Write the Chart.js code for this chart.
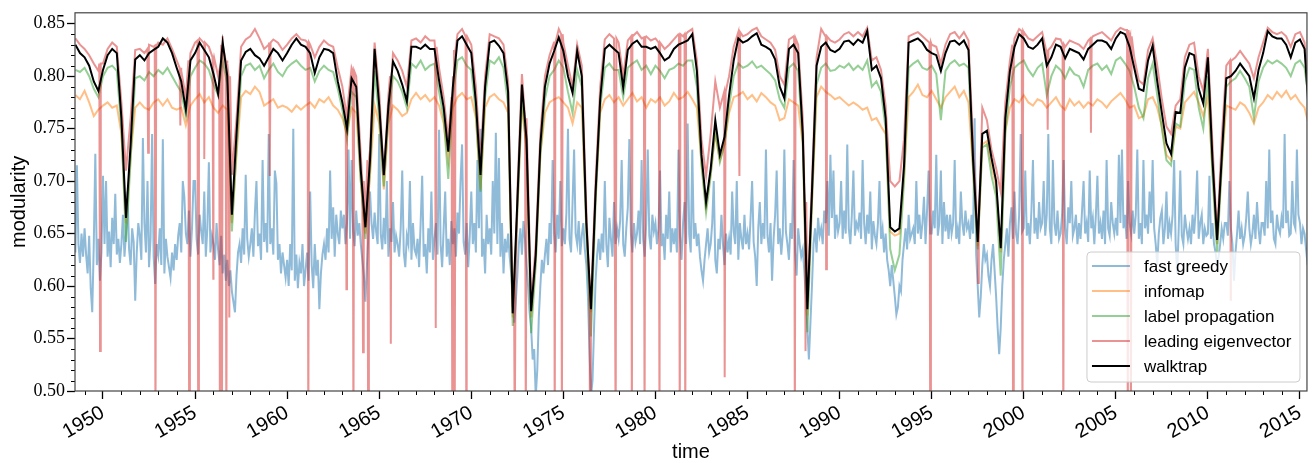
<!DOCTYPE html>
<html>
<head>
<meta charset="utf-8">
<script src="https://cdn.jsdelivr.net/npm/chart.js@4.4.0/dist/chart.umd.min.js"></script>
<style>
  html, body { margin: 0; padding: 0; background: #fff; }
  #chart { display: block; }
</style>
</head>
<body>
<canvas id="chart" width="1314" height="463"></canvas>
<script>
// quarterly samples from 1948.5, fast greedy is monthly from July 1948
const quarterStart = 1948.5, quarterStep = 0.25;
const monthStart = 1948.5, monthStep = 1 / 12;
const dropHalfWidth = 0.04;

const yearTicks = [1950, 1955, 1960, 1965, 1970, 1975, 1980, 1985, 1990, 1995, 2000, 2005, 2010, 2015];
const modularityTicks = [0.50, 0.55, 0.60, 0.65, 0.70, 0.75, 0.80, 0.85];

const walktrap = [
  0.830, 0.822,
  0.818, 0.810, 0.795, 0.786,  // 1949
  0.806, 0.820, 0.826, 0.822,
  0.760, 0.665, 0.735, 0.816,
  0.820, 0.815, 0.822, 0.825,
  0.828, 0.836, 0.832, 0.822,
  0.808, 0.795, 0.768, 0.815,
  0.822, 0.832, 0.825, 0.818,
  0.802, 0.783, 0.832, 0.800,
  0.668, 0.745, 0.815, 0.823,
  0.826, 0.820, 0.817, 0.810,
  0.818, 0.826, 0.822, 0.815,  // 1959
  0.822, 0.830, 0.836, 0.830,
  0.828, 0.822, 0.803, 0.818,
  0.826, 0.825, 0.822, 0.795,
  0.775, 0.750, 0.798, 0.790,
  0.710, 0.656, 0.720, 0.826,
  0.772, 0.706, 0.772, 0.814,
  0.805, 0.792, 0.776, 0.828,
  0.828, 0.826, 0.830, 0.826,
  0.826, 0.796, 0.770, 0.728,
  0.790, 0.834, 0.838, 0.830,  // 1969
  0.822, 0.775, 0.706, 0.790,
  0.832, 0.834, 0.829, 0.822,
  0.785, 0.574, 0.680, 0.792,
  0.740, 0.576, 0.630, 0.735,
  0.790, 0.812, 0.824, 0.837,
  0.824, 0.800, 0.784, 0.824,
  0.800, 0.660, 0.578, 0.690,
  0.778, 0.826, 0.830, 0.826,
  0.822, 0.789, 0.825, 0.831,
  0.834, 0.828, 0.828, 0.826,  // 1979
  0.828, 0.822, 0.815, 0.818,
  0.826, 0.830, 0.832, 0.834,
  0.840, 0.805, 0.725, 0.680,
  0.712, 0.758, 0.725, 0.742,
  0.782, 0.815, 0.836, 0.832,
  0.834, 0.838, 0.841, 0.830,
  0.828, 0.825, 0.816, 0.790,
  0.779, 0.826, 0.830, 0.822,
  0.745, 0.578, 0.690, 0.810,
  0.828, 0.832, 0.825, 0.823,  // 1989
  0.826, 0.833, 0.834, 0.830,
  0.835, 0.832, 0.843, 0.806,
  0.810, 0.798, 0.760, 0.656,
  0.652, 0.655, 0.715, 0.832,
  0.834, 0.836, 0.832, 0.825,
  0.822, 0.820, 0.805, 0.822,
  0.833, 0.834, 0.830, 0.834,
  0.825, 0.720, 0.642, 0.745,
  0.748, 0.722, 0.700, 0.636,
  0.760, 0.805, 0.828, 0.840,  // 1999
  0.836, 0.828, 0.826, 0.830,
  0.836, 0.810, 0.818, 0.830,
  0.828, 0.817, 0.826, 0.824,
  0.822, 0.816, 0.826, 0.830,
  0.834, 0.834, 0.832, 0.826,
  0.836, 0.842, 0.840, 0.828,
  0.808, 0.788, 0.786, 0.815,
  0.829, 0.795, 0.765, 0.736,
  0.726, 0.766, 0.765, 0.808,
  0.822, 0.820, 0.788, 0.774,  // 2009
  0.818, 0.720, 0.644, 0.722,
  0.798, 0.800, 0.805, 0.812,
  0.806, 0.800, 0.779, 0.806,
  0.822, 0.843, 0.838, 0.836,
  0.836, 0.830, 0.818, 0.832,
  0.835, 0.826, 0.760
];

const labelPropagation = [
  0.806, 0.804,
  0.808, 0.800, 0.788, 0.780,  // 1949
  0.800, 0.808, 0.810, 0.805,
  0.750, 0.642, 0.720, 0.798,
  0.800, 0.796, 0.804, 0.800,
  0.806, 0.802, 0.808, 0.800,
  0.792, 0.785, 0.762, 0.800,
  0.808, 0.815, 0.812, 0.806,
  0.792, 0.782, 0.815, 0.792,
  0.652, 0.730, 0.800, 0.810,
  0.812, 0.806, 0.810, 0.798,
  0.806, 0.812, 0.804, 0.800,  // 1959
  0.808, 0.812, 0.815, 0.810,
  0.806, 0.808, 0.795, 0.805,
  0.810, 0.806, 0.804, 0.788,
  0.768, 0.740, 0.785, 0.780,
  0.700, 0.645, 0.710, 0.805,
  0.760, 0.695, 0.762, 0.800,
  0.795, 0.785, 0.770, 0.812,
  0.808, 0.815, 0.806, 0.810,
  0.812, 0.785, 0.760, 0.702,
  0.780, 0.815, 0.818, 0.810,  // 1969
  0.806, 0.765, 0.690, 0.780,
  0.815, 0.812, 0.818, 0.808,
  0.772, 0.562, 0.670, 0.780,
  0.730, 0.555, 0.620, 0.725,
  0.778, 0.800, 0.806, 0.815,
  0.808, 0.785, 0.765, 0.806,
  0.790, 0.650, 0.552, 0.680,
  0.770, 0.808, 0.812, 0.806,
  0.806, 0.780, 0.808, 0.812,
  0.815, 0.806, 0.810, 0.802,  // 1979
  0.810, 0.805, 0.798, 0.806,
  0.808, 0.812, 0.810, 0.815,
  0.815, 0.790, 0.715, 0.670,
  0.705, 0.748, 0.718, 0.735,
  0.772, 0.800, 0.812, 0.808,
  0.810, 0.814, 0.808, 0.810,
  0.806, 0.802, 0.796, 0.778,
  0.770, 0.808, 0.812, 0.805,
  0.738, 0.556, 0.680, 0.792,
  0.808, 0.812, 0.805, 0.806,  // 1989
  0.810, 0.808, 0.812, 0.806,
  0.810, 0.806, 0.815, 0.790,
  0.795, 0.785, 0.750, 0.635,
  0.615, 0.630, 0.700, 0.808,
  0.812, 0.815, 0.808, 0.806,
  0.810, 0.802, 0.758, 0.805,
  0.812, 0.815, 0.810, 0.812,
  0.808, 0.712, 0.635, 0.732,
  0.735, 0.705, 0.685, 0.610,
  0.745, 0.790, 0.808, 0.812,  // 1999
  0.815, 0.806, 0.800, 0.808,
  0.812, 0.782, 0.800, 0.810,
  0.806, 0.798, 0.808, 0.802,
  0.800, 0.790, 0.806, 0.810,
  0.812, 0.806, 0.810, 0.802,
  0.815, 0.818, 0.812, 0.805,
  0.790, 0.770, 0.760, 0.798,
  0.812, 0.782, 0.750, 0.720,
  0.715, 0.755, 0.752, 0.795,
  0.808, 0.806, 0.770, 0.750,  // 2009
  0.800, 0.705, 0.632, 0.712,
  0.790, 0.795, 0.798, 0.805,
  0.798, 0.790, 0.760, 0.795,
  0.808, 0.815, 0.812, 0.815,
  0.812, 0.808, 0.800, 0.812,
  0.815, 0.808, 0.775
];

const infomap = [
  0.782, 0.778,
  0.786, 0.775, 0.762, 0.768,  // 1949
  0.772, 0.775, 0.770, 0.772,
  0.745, 0.660, 0.725, 0.770,
  0.775, 0.770, 0.768, 0.775,
  0.778, 0.772, 0.778, 0.770,
  0.768, 0.770, 0.753, 0.772,
  0.778, 0.783, 0.775, 0.780,
  0.770, 0.765, 0.772, 0.768,
  0.660, 0.725, 0.780, 0.786,
  0.783, 0.790, 0.785, 0.772,
  0.775, 0.778, 0.770, 0.772,  // 1959
  0.770, 0.766, 0.772, 0.768,
  0.772, 0.775, 0.770, 0.778,
  0.775, 0.780, 0.772, 0.768,
  0.760, 0.745, 0.770, 0.765,
  0.700, 0.650, 0.705, 0.772,
  0.755, 0.692, 0.755, 0.772,
  0.768, 0.762, 0.765, 0.778,
  0.784, 0.778, 0.782, 0.776,
  0.780, 0.772, 0.755, 0.720,
  0.770, 0.780, 0.784, 0.778,  // 1969
  0.780, 0.760, 0.692, 0.770,
  0.780, 0.783, 0.778, 0.775,
  0.765, 0.570, 0.672, 0.772,
  0.730, 0.570, 0.625, 0.725,
  0.765, 0.775, 0.778, 0.780,
  0.775, 0.770, 0.755, 0.775,
  0.770, 0.655, 0.575, 0.685,
  0.765, 0.778, 0.782, 0.775,
  0.780, 0.772, 0.778, 0.784,
  0.776, 0.780, 0.770, 0.778,  // 1979
  0.775, 0.780, 0.772, 0.776,
  0.784, 0.778, 0.780, 0.785,
  0.778, 0.770, 0.718, 0.676,
  0.708, 0.745, 0.720, 0.735,
  0.765, 0.780, 0.782, 0.785,
  0.778, 0.782, 0.776, 0.784,
  0.780, 0.775, 0.772, 0.758,
  0.760, 0.778, 0.775, 0.772,
  0.735, 0.572, 0.680, 0.780,
  0.790, 0.785, 0.782, 0.778,  // 1989
  0.780, 0.776, 0.772, 0.775,
  0.772, 0.768, 0.770, 0.758,
  0.760, 0.752, 0.745, 0.652,
  0.648, 0.650, 0.705, 0.780,
  0.785, 0.792, 0.782, 0.780,
  0.786, 0.778, 0.770, 0.780,
  0.785, 0.790, 0.780, 0.786,
  0.775, 0.710, 0.638, 0.735,
  0.738, 0.715, 0.695, 0.632,
  0.748, 0.770, 0.778, 0.775,  // 1999
  0.782, 0.775, 0.772, 0.778,
  0.776, 0.770, 0.775, 0.780,
  0.772, 0.768, 0.778, 0.772,
  0.776, 0.770, 0.775, 0.772,
  0.778, 0.775, 0.770, 0.776,
  0.780, 0.784, 0.778, 0.770,
  0.772, 0.760, 0.762, 0.778,
  0.780, 0.770, 0.752, 0.725,
  0.720, 0.752, 0.750, 0.775,
  0.780, 0.785, 0.775, 0.762,  // 2009
  0.780, 0.712, 0.640, 0.715,
  0.772, 0.770, 0.768, 0.775,
  0.772, 0.765, 0.755, 0.770,
  0.775, 0.782, 0.778, 0.785,
  0.780, 0.786, 0.778, 0.782,
  0.775, 0.770, 0.752
];

const leadingEigenvector = [
  0.836, 0.830,
  0.826, 0.820, 0.812, 0.805,  // 1949
  0.812, 0.826, 0.832, 0.828,
  0.775, 0.710, 0.760, 0.825,
  0.826, 0.822, 0.830, 0.828,
  0.832, 0.830, 0.836, 0.826,
  0.815, 0.805, 0.780, 0.822,
  0.832, 0.836, 0.832, 0.828,
  0.815, 0.800, 0.838, 0.812,
  0.706, 0.760, 0.828, 0.835,
  0.838, 0.845, 0.836, 0.826,
  0.830, 0.835, 0.832, 0.825,  // 1959
  0.830, 0.836, 0.840, 0.835,
  0.834, 0.830, 0.818, 0.828,
  0.834, 0.830, 0.828, 0.808,
  0.790, 0.765, 0.808, 0.800,
  0.725, 0.668, 0.730, 0.832,
  0.785, 0.705, 0.782, 0.822,
  0.815, 0.805, 0.790, 0.834,
  0.836, 0.832, 0.838, 0.834,
  0.834, 0.808, 0.780, 0.740,
  0.800, 0.840, 0.845, 0.836,  // 1969
  0.830, 0.790, 0.720, 0.800,
  0.840, 0.838, 0.836, 0.830,
  0.795, 0.580, 0.690, 0.802,
  0.750, 0.582, 0.640, 0.745,
  0.800, 0.820, 0.832, 0.845,
  0.832, 0.810, 0.790, 0.830,
  0.810, 0.672, 0.585, 0.700,
  0.790, 0.835, 0.840, 0.836,
  0.832, 0.800, 0.834, 0.840,
  0.842, 0.836, 0.838, 0.834,  // 1979
  0.836, 0.832, 0.826, 0.830,
  0.835, 0.840, 0.838, 0.842,
  0.845, 0.815, 0.740, 0.705,
  0.745, 0.795, 0.770, 0.785,
  0.800, 0.828, 0.842, 0.838,
  0.840, 0.844, 0.846, 0.838,
  0.835, 0.832, 0.825, 0.800,
  0.792, 0.835, 0.838, 0.830,
  0.760, 0.585, 0.700, 0.818,
  0.845, 0.840, 0.834, 0.832,  // 1989
  0.835, 0.840, 0.842, 0.838,
  0.842, 0.838, 0.846, 0.815,
  0.818, 0.806, 0.772, 0.700,
  0.695, 0.700, 0.740, 0.838,
  0.840, 0.842, 0.838, 0.834,
  0.830, 0.828, 0.812, 0.830,
  0.840, 0.842, 0.836, 0.842,
  0.834, 0.735, 0.655, 0.770,
  0.758, 0.730, 0.712, 0.690,
  0.775, 0.815, 0.836, 0.845,  // 1999
  0.842, 0.836, 0.834, 0.838,
  0.842, 0.822, 0.828, 0.836,
  0.835, 0.828, 0.834, 0.832,
  0.830, 0.826, 0.834, 0.838,
  0.840, 0.842, 0.838, 0.834,
  0.842, 0.846, 0.844, 0.836,
  0.818, 0.796, 0.792, 0.825,
  0.836, 0.810, 0.778, 0.752,
  0.745, 0.772, 0.778, 0.818,
  0.830, 0.832, 0.800, 0.786,  // 2009
  0.826, 0.735, 0.648, 0.740,
  0.810, 0.815, 0.818, 0.824,
  0.818, 0.812, 0.798, 0.818,
  0.832, 0.846, 0.842, 0.840,
  0.842, 0.838, 0.828, 0.840,
  0.842, 0.832, 0.770
];

// single-month collapses of leading eigenvector (below 0.50 runs off the axis)
const leadingDropYears = [
  1949.84, 1952.45, 1952.85, 1954.20, 1954.68, 1955.17, 1955.50, 1955.99, 1956.35, 1956.46,
  1956.70, 1956.86, 1959.06, 1961.15, 1963.22, 1963.60, 1964.12, 1964.40, 1965.63, 1968.07,
  1968.97, 1969.10, 1969.73, 1972.36, 1972.96, 1974.53, 1974.92, 1976.45, 1977.84, 1978.72,
  1979.41, 1980.22, 1981.32, 1981.62, 1983.77, 1984.56, 1987.57, 1988.15, 1989.27, 1994.92,
  1997.52, 1999.42, 1999.93, 2001.30, 2002.15, 2003.65, 2005.65, 2005.82, 2011.24
];
const leadingDropValues = [
  0.538, 0.727, 0.45, 0.753, 0.45, 0.45, 0.721, 0.607, 0.45, 0.45,
  0.45, 0.570, 0.705, 0.45, 0.597, 0.45, 0.537, 0.45, 0.545, 0.560,
  0.45, 0.45, 0.45, 0.45, 0.45, 0.45, 0.45, 0.45, 0.45, 0.45,
  0.45, 0.45, 0.45, 0.45, 0.513, 0.705, 0.45, 0.538, 0.616, 0.45,
  0.603, 0.45, 0.45, 0.749, 0.45, 0.746, 0.45, 0.45, 0.587
];
// level of the curve just either side of each collapse
const leadingDropShoulders = [
  0.812, 0.826, 0.829, 0.808, 0.815, 0.834, 0.832, 0.818, 0.805, 0.830,
  0.815, 0.800, 0.832, 0.832, 0.768, 0.805, 0.700, 0.720, 0.800, 0.828,
  0.780, 0.825, 0.838, 0.600, 0.760, 0.832, 0.840, 0.600, 0.836, 0.838,
  0.837, 0.832, 0.840, 0.840, 0.785, 0.842, 0.836, 0.680, 0.838, 0.832,
  0.660, 0.830, 0.843, 0.825, 0.830, 0.836, 0.844, 0.838, 0.815
];

const fastGreedy = [
  0.632, 0.715, 0.640, 0.622, 0.650, 0.628,
  0.655, 0.630, 0.612, 0.648, 0.598, 0.575, 0.640, 0.726, 0.620, 0.645, 0.605, 0.632,  // 1949
  0.705, 0.640, 0.700, 0.628, 0.652, 0.618, 0.665, 0.640, 0.688, 0.630, 0.645, 0.622,
  0.640, 0.668, 0.628, 0.650, 0.690, 0.635, 0.620, 0.655, 0.642, 0.586, 0.632, 0.660,
  0.648, 0.625, 0.741, 0.660, 0.632, 0.700, 0.618, 0.645, 0.745, 0.628, 0.602, 0.640,
  0.630, 0.655, 0.620, 0.740, 0.612, 0.645, 0.628, 0.618, 0.608, 0.632, 0.615, 0.640,
  0.625, 0.648, 0.660, 0.632, 0.700, 0.685, 0.650, 0.640, 0.672, 0.628, 0.655, 0.700,
  0.700, 0.645, 0.630, 0.668, 0.652, 0.640, 0.690, 0.628, 0.655, 0.718, 0.632, 0.648,
  0.640, 0.625, 0.660, 0.635, 0.620, 0.648, 0.612, 0.630, 0.605, 0.625, 0.600, 0.615,
  0.595, 0.585, 0.575, 0.610, 0.632, 0.640, 0.622, 0.655, 0.630, 0.706, 0.645, 0.628,
  0.640, 0.655, 0.628, 0.670, 0.700, 0.638, 0.650, 0.625, 0.720, 0.642, 0.660, 0.632,
  0.745, 0.640, 0.655, 0.630, 0.710, 0.698, 0.625, 0.640, 0.612, 0.632, 0.620, 0.608,  // 1959
  0.625, 0.600, 0.640, 0.615, 0.750, 0.605, 0.630, 0.598, 0.622, 0.612, 0.640, 0.600,
  0.615, 0.632, 0.605, 0.690, 0.620, 0.598, 0.640, 0.610, 0.625, 0.578, 0.612, 0.630,
  0.640, 0.625, 0.655, 0.632, 0.710, 0.645, 0.675, 0.628, 0.668, 0.650, 0.640, 0.672,
  0.655, 0.668, 0.640, 0.660, 0.730, 0.645, 0.720, 0.652, 0.638, 0.672, 0.648, 0.660,
  0.640, 0.625, 0.610, 0.585, 0.620, 0.650, 0.690, 0.660, 0.645, 0.670, 0.652, 0.640,
  0.745, 0.650, 0.635, 0.665, 0.640, 0.700, 0.628, 0.655, 0.642, 0.680, 0.632, 0.648,
  0.640, 0.628, 0.655, 0.710, 0.632, 0.618, 0.648, 0.640, 0.700, 0.625, 0.660, 0.635,
  0.630, 0.645, 0.618, 0.660, 0.705, 0.628, 0.640, 0.612, 0.655, 0.632, 0.690, 0.625,
  0.645, 0.660, 0.630, 0.749, 0.640, 0.618, 0.655, 0.690, 0.628, 0.645, 0.620, 0.662,
  0.640, 0.655, 0.628, 0.670, 0.650, 0.700, 0.735, 0.642, 0.630, 0.660, 0.618, 0.648,  // 1969
  0.690, 0.640, 0.660, 0.632, 0.720, 0.655, 0.750, 0.628, 0.645, 0.612, 0.668, 0.640,
  0.655, 0.630, 0.700, 0.650, 0.746, 0.640, 0.722, 0.628, 0.660, 0.612, 0.645, 0.632,
  0.650, 0.628, 0.612, 0.590, 0.565, 0.585, 0.610, 0.640, 0.655, 0.630, 0.662, 0.645,
  0.620, 0.600, 0.575, 0.560, 0.530, 0.540, 0.495, 0.520, 0.570, 0.600, 0.625, 0.612,
  0.630, 0.645, 0.620, 0.660, 0.640, 0.720, 0.650, 0.632, 0.668, 0.645, 0.700, 0.638,
  0.655, 0.640, 0.670, 0.750, 0.645, 0.632, 0.680, 0.730, 0.650, 0.640, 0.662, 0.630,
  0.648, 0.660, 0.635, 0.620, 0.590, 0.540, 0.495, 0.510, 0.560, 0.605, 0.630, 0.645,
  0.625, 0.650, 0.632, 0.700, 0.640, 0.618, 0.665, 0.645, 0.628, 0.680, 0.640, 0.655,
  0.645, 0.662, 0.720, 0.640, 0.628, 0.655, 0.675, 0.740, 0.650, 0.632, 0.660, 0.642,
  0.650, 0.672, 0.640, 0.720, 0.645, 0.628, 0.660, 0.730, 0.648, 0.635, 0.668, 0.652,  // 1979
  0.660, 0.640, 0.655, 0.710, 0.638, 0.650, 0.625, 0.668, 0.645, 0.690, 0.632, 0.655,
  0.640, 0.655, 0.632, 0.730, 0.648, 0.625, 0.660, 0.680, 0.640, 0.755, 0.650, 0.632,
  0.730, 0.645, 0.660, 0.638, 0.650, 0.628, 0.615, 0.605, 0.625, 0.640, 0.655, 0.632,
  0.640, 0.660, 0.700, 0.625, 0.612, 0.645, 0.635, 0.668, 0.640, 0.620, 0.650, 0.632,
  0.645, 0.630, 0.690, 0.652, 0.640, 0.700, 0.625, 0.660, 0.645, 0.635, 0.668, 0.640,
  0.650, 0.635, 0.665, 0.700, 0.642, 0.628, 0.600, 0.655, 0.680, 0.640, 0.660, 0.645,
  0.730, 0.648, 0.632, 0.660, 0.605, 0.645, 0.668, 0.710, 0.640, 0.655, 0.630, 0.650,
  0.730, 0.652, 0.640, 0.625, 0.660, 0.645, 0.720, 0.632, 0.610, 0.655, 0.640, 0.628,
  0.635, 0.615, 0.590, 0.560, 0.530, 0.565, 0.600, 0.640, 0.655, 0.632, 0.665, 0.648,
  0.655, 0.640, 0.672, 0.660, 0.700, 0.648, 0.725, 0.665, 0.710, 0.645, 0.668, 0.652,  // 1989
  0.660, 0.700, 0.645, 0.672, 0.650, 0.735, 0.655, 0.640, 0.668, 0.710, 0.648, 0.660,
  0.655, 0.670, 0.645, 0.720, 0.660, 0.640, 0.668, 0.650, 0.690, 0.635, 0.662, 0.648,
  0.640, 0.660, 0.700, 0.645, 0.655, 0.632, 0.650, 0.625, 0.615, 0.600, 0.620, 0.605,
  0.590, 0.573, 0.580, 0.600, 0.595, 0.625, 0.640, 0.655, 0.635, 0.668, 0.645, 0.650,
  0.655, 0.640, 0.700, 0.650, 0.668, 0.645, 0.660, 0.685, 0.640, 0.672, 0.710, 0.650,
  0.650, 0.672, 0.655, 0.725, 0.648, 0.660, 0.710, 0.640, 0.680, 0.652, 0.668, 0.645,
  0.668, 0.650, 0.660, 0.720, 0.645, 0.655, 0.640, 0.690, 0.660, 0.648, 0.672, 0.655,
  0.660, 0.645, 0.668, 0.650, 0.760, 0.630, 0.600, 0.570, 0.590, 0.620, 0.640, 0.625,
  0.630, 0.610, 0.600, 0.625, 0.640, 0.615, 0.590, 0.560, 0.535, 0.560, 0.600, 0.625,
  0.640, 0.655, 0.628, 0.660, 0.675, 0.645, 0.690, 0.650, 0.640, 0.668, 0.745, 0.652,  // 1999
  0.655, 0.710, 0.648, 0.660, 0.640, 0.672, 0.720, 0.650, 0.665, 0.645, 0.680, 0.655,
  0.660, 0.700, 0.648, 0.668, 0.745, 0.655, 0.640, 0.720, 0.660, 0.648, 0.672, 0.645,
  0.650, 0.668, 0.720, 0.655, 0.640, 0.675, 0.660, 0.700, 0.648, 0.655, 0.668, 0.640,
  0.660, 0.645, 0.672, 0.700, 0.650, 0.660, 0.642, 0.710, 0.655, 0.665, 0.640, 0.668,
  0.705, 0.650, 0.660, 0.645, 0.672, 0.640, 0.720, 0.655, 0.648, 0.680, 0.660, 0.650,
  0.665, 0.648, 0.725, 0.660, 0.730, 0.655, 0.668, 0.645, 0.700, 0.660, 0.650, 0.672,
  0.650, 0.668, 0.730, 0.645, 0.660, 0.640, 0.720, 0.655, 0.668, 0.650, 0.690, 0.660,
  0.720, 0.655, 0.640, 0.620, 0.650, 0.665, 0.672, 0.640, 0.655, 0.690, 0.645, 0.660,
  0.650, 0.668, 0.720, 0.640, 0.612, 0.655, 0.710, 0.648, 0.640, 0.668, 0.655, 0.645,
  0.655, 0.640, 0.668, 0.650, 0.672, 0.710, 0.645, 0.660, 0.668, 0.640, 0.655, 0.648,  // 2009
  0.650, 0.705, 0.645, 0.660, 0.640, 0.632, 0.620, 0.628, 0.640, 0.655, 0.645, 0.660,
  0.660, 0.648, 0.700, 0.655, 0.640, 0.605, 0.632, 0.650, 0.672, 0.645, 0.655, 0.640,
  0.648, 0.665, 0.690, 0.655, 0.640, 0.650, 0.668, 0.645, 0.680, 0.655, 0.640, 0.660,
  0.660, 0.648, 0.700, 0.655, 0.730, 0.660, 0.672, 0.645, 0.640, 0.668, 0.655, 0.650,
  0.665, 0.655, 0.745, 0.660, 0.672, 0.648, 0.650, 0.700, 0.660, 0.655, 0.730, 0.668,
  0.660, 0.640, 0.655, 0.650, 0.635, 0.620
];

function toPoints(values, start, step) {
  return values.map((v, i) => ({ x: start + i * step, y: v }));
}

const leadingPoints = toPoints(leadingEigenvector, quarterStart, quarterStep);
leadingDropYears.forEach((t, i) => {
  leadingPoints.push(
    { x: t - dropHalfWidth, y: leadingDropShoulders[i] },
    { x: t, y: leadingDropValues[i] },
    { x: t + dropHalfWidth, y: leadingDropShoulders[i] }
  );
});
leadingPoints.sort((a, b) => a.x - b.x);

const sans = '"Liberation Sans", Arial, sans-serif';
const serif = '"Liberation Serif", "Times New Roman", serif';

// minor ticks + box frame, matplotlib style
const axisDecor = {
  id: 'axisDecor',
  afterDraw(chart) {
    const { ctx, chartArea: a, scales: { x, y } } = chart;
    ctx.save();
    ctx.strokeStyle = '#000';
    ctx.lineWidth = 1;
    ctx.beginPath();
    for (let yr = 1949; yr <= 2015; yr++) {
      if (yr % 5 === 0) continue;
      const px = Math.round(x.getPixelForValue(yr)) + 0.5;
      ctx.moveTo(px, a.bottom);
      ctx.lineTo(px, a.bottom + 4);
    }
    for (let k = 51; k < 85; k++) {
      if (k % 5 === 0) continue;
      const py = Math.round(y.getPixelForValue(k / 100)) + 0.5;
      ctx.moveTo(a.left, py);
      ctx.lineTo(a.left - 4, py);
    }
    ctx.stroke();
    ctx.strokeStyle = '#444';
    ctx.lineWidth = 1.2;
    ctx.strokeRect(a.left, a.top, a.right - a.left, a.bottom - a.top);
    ctx.restore();
  }
};

// legend box in the lower right corner of the plot
const cornerLegend = {
  id: 'cornerLegend',
  afterDatasetsDraw(chart) {
    const { ctx, chartArea: a } = chart;
    const left = a.right - 220, right = a.right - 7;
    const bottom = a.bottom - 9, top = bottom - 130;
    ctx.save();
    ctx.beginPath();
    ctx.roundRect(left, top, right - left, bottom - top, 4);
    ctx.fillStyle = 'rgba(255,255,255,0.8)';
    ctx.fill();
    ctx.strokeStyle = '#cccccc';
    ctx.lineWidth = 1;
    ctx.stroke();
    ctx.font = '17px ' + sans;
    ctx.textBaseline = 'middle';
    chart.data.datasets.forEach((ds, i) => {
      const rowY = top + 14 + i * 25;
      ctx.beginPath();
      ctx.moveTo(left + 5, rowY);
      ctx.lineTo(left + 43, rowY);
      ctx.strokeStyle = ds.borderColor;
      ctx.lineWidth = ds.borderWidth;
      ctx.stroke();
      ctx.fillStyle = '#000';
      ctx.fillText(ds.label, left + 57, rowY + 1);
    });
    ctx.restore();
  }
};

function series(label, points, color, order) {
  return {
    label: label,
    data: points,
    borderColor: color,
    borderWidth: 2,
    pointRadius: 0,
    tension: 0,
    fill: false,
    clip: 0,
    order: order
  };
}

new Chart(document.getElementById('chart'), {
  type: 'line',
  data: {
    datasets: [
      series('fast greedy', toPoints(fastGreedy, monthStart, monthStep), 'rgba(31,119,180,0.5)', 5),
      series('infomap', toPoints(infomap, quarterStart, quarterStep), 'rgba(255,127,14,0.5)', 4),
      series('label propagation', toPoints(labelPropagation, quarterStart, quarterStep), 'rgba(44,160,44,0.5)', 3),
      series('leading eigenvector', leadingPoints, 'rgba(214,39,40,0.5)', 2),
      series('walktrap', toPoints(walktrap, quarterStart, quarterStep), '#000000', 1)
    ]
  },
  options: {
    responsive: false,
    animation: false,
    devicePixelRatio: 1,
    events: [],
    layout: { padding: { top: 9, right: 6, left: 0, bottom: 0 } },
    plugins: {
      legend: { display: false },
      tooltip: { enabled: false }
    },
    scales: {
      x: {
        type: 'linear',
        bounds: 'data',
        min: 1948.48,
        max: 2015.38,
        afterBuildTicks: (scale) => { scale.ticks = yearTicks.map(v => ({ value: v })); },
        afterFit: (scale) => { scale.height = 72; },
        ticks: {
          autoSkip: false,
          maxRotation: 30,
          minRotation: 30,
          padding: 2,
          color: '#000',
          font: { family: sans, size: 20 },
          callback: (v) => String(v)
        },
        grid: { drawOnChartArea: false, tickLength: 8, tickColor: '#000', tickWidth: 1.3 },
        border: { display: false },
        title: {
          display: true,
          text: 'time',
          color: '#000',
          font: { family: sans, size: 20 },
          padding: { top: 0, bottom: -1 }
        }
      },
      y: {
        type: 'linear',
        bounds: 'data',
        min: 0.50,
        max: 0.8604,
        afterBuildTicks: (scale) => { scale.ticks = modularityTicks.map(v => ({ value: v })); },
        afterFit: (scale) => { scale.width = 75; },
        ticks: {
          padding: 2,
          color: '#000',
          font: { family: serif, size: 18 },
          callback: (v) => v.toFixed(2)
        },
        grid: { drawOnChartArea: false, tickLength: 8, tickColor: '#000', tickWidth: 1.3 },
        border: { display: false },
        title: {
          display: true,
          text: 'modularity',
          color: '#000',
          font: { family: sans, size: 20 },
          padding: { top: 7, bottom: 0 }
        }
      }
    }
  },
  plugins: [axisDecor, cornerLegend]
});
</script>
</body>
</html>
